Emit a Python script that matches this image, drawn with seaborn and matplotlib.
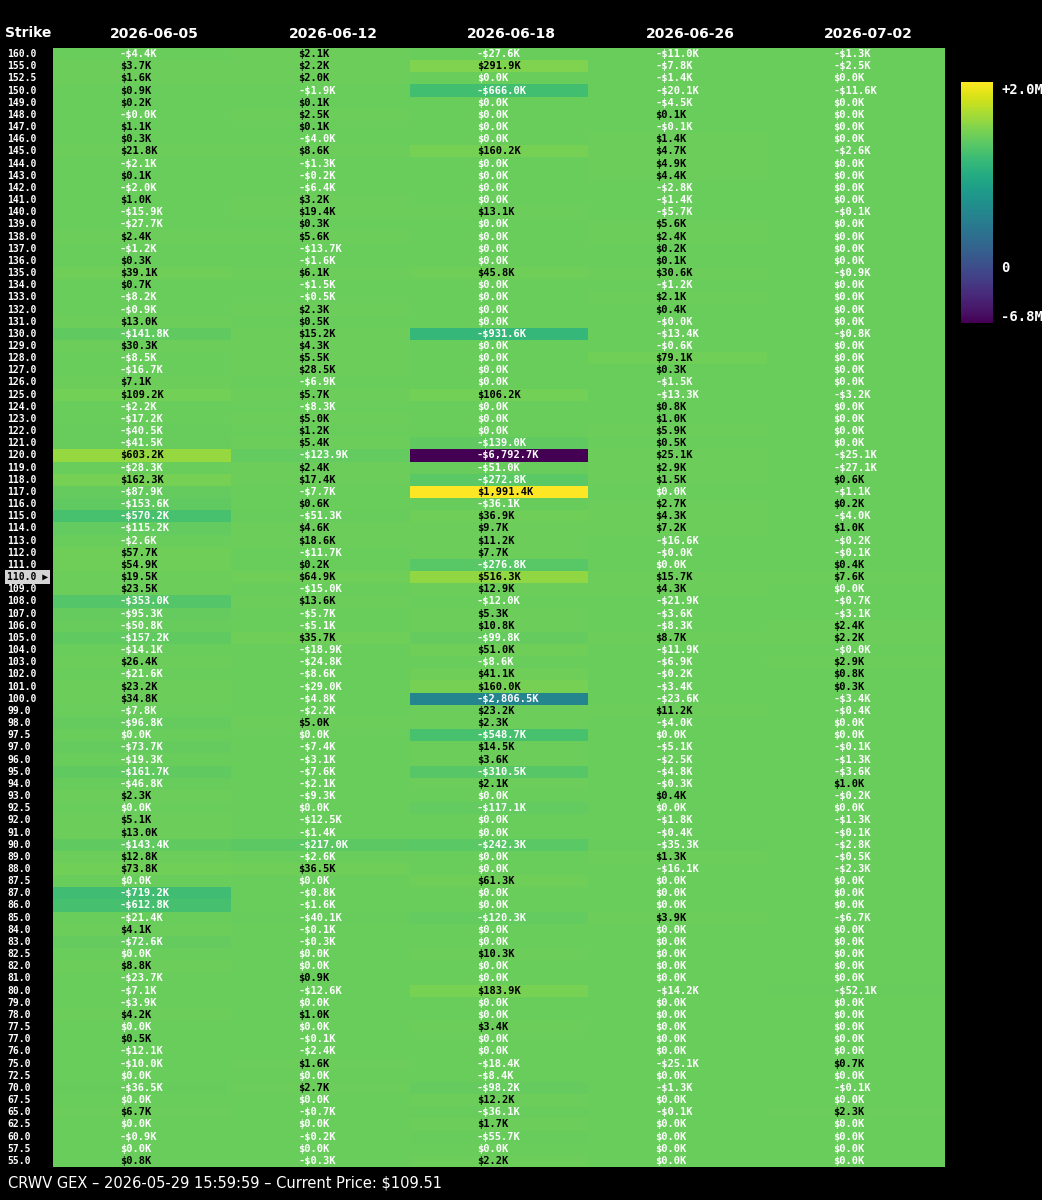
import numpy as np
import pandas as pd
import matplotlib
matplotlib.use("Agg")
import matplotlib.pyplot as plt
import seaborn as sns

# strikes, top to bottom
strikes = [160.0, 155.0, 152.5, 150.0, 149.0, 148.0, 147.0, 146.0, 145.0, 144.0,
           143.0, 142.0, 141.0, 140.0, 139.0, 138.0, 137.0, 136.0, 135.0, 134.0,
           133.0, 132.0, 131.0, 130.0, 129.0, 128.0, 127.0, 126.0, 125.0, 124.0,
           123.0, 122.0, 121.0, 120.0, 119.0, 118.0, 117.0, 116.0, 115.0, 114.0,
           113.0, 112.0, 111.0, 110.0, 109.0, 108.0, 107.0, 106.0, 105.0, 104.0,
           103.0, 102.0, 101.0, 100.0, 99.0, 98.0, 97.5, 97.0, 96.0, 95.0,
           94.0, 93.0, 92.5, 92.0, 91.0, 90.0, 89.0, 88.0, 87.5, 87.0,
           86.0, 85.0, 84.0, 83.0, 82.5, 82.0, 81.0, 80.0, 79.0, 78.0,
           77.5, 77.0, 76.0, 75.0, 72.5, 70.0, 67.5, 65.0, 62.5, 60.0,
           57.5, 55.0]

expiries = ["2026-06-05", "2026-06-12", "2026-06-18", "2026-06-26", "2026-07-02"]

# GEX per strike, in $K  (-0.01 = shown as -$0.0K)
gex_0605 = [-4.4, 3.7, 1.6, 0.9, 0.2, -0.01, 1.1, 0.3, 21.8, -2.1,
            0.1, -2.0, 1.0, -15.9, -27.7, 2.4, -1.2, 0.3, 39.1, 0.7,
            -8.2, -0.9, 13.0, -141.8, 30.3, -8.5, -16.7, 7.1, 109.2, -2.2,
            -17.2, -40.5, -41.5, 603.2, -28.3, 162.3, -87.9, -153.6, -570.2, -115.2,
            -2.6, 57.7, 54.9, 19.5, 23.5, -353.0, -95.3, -50.8, -157.2, -14.1,
            26.4, -21.6, 23.2, 34.8, -7.8, -96.8, 0.0, -73.7, -19.3, -161.7,
            -46.8, 2.3, 0.0, 5.1, 13.0, -143.4, 12.8, 73.8, 0.0, -719.2,
            -612.8, -21.4, 4.1, -72.6, 0.0, 8.8, -23.7, -7.1, -3.9, 4.2,
            0.0, 0.5, -12.1, -10.0, 0.0, -36.5, 0.0, 6.7, 0.0, -0.9,
            0.0, 0.8]
gex_0612 = [2.1, 2.2, 2.0, -1.9, 0.1, 2.5, 0.1, -4.0, 8.6, -1.3,
            -0.2, -6.4, 3.2, 19.4, 0.3, 5.6, -13.7, -1.6, 6.1, -1.5,
            -0.5, 2.3, 0.5, 15.2, 4.3, 5.5, 28.5, -6.9, 5.7, -8.3,
            5.0, 1.2, 5.4, -123.9, 2.4, 17.4, -7.7, 0.6, -51.3, 4.6,
            18.6, -11.7, 0.2, 64.9, -15.0, 13.6, -5.7, -5.1, 35.7, -18.9,
            -24.8, -8.6, -29.0, -4.8, -2.2, 5.0, 0.0, -7.4, -3.1, -7.6,
            -2.1, -9.3, 0.0, -12.5, -1.4, -217.0, -2.6, 36.5, 0.0, -0.8,
            -1.6, -40.1, -0.1, -0.3, 0.0, 0.0, 0.9, -12.6, 0.0, 1.0,
            0.0, -0.1, -2.4, 1.6, 0.0, 2.7, 0.0, -0.7, 0.0, -0.2,
            0.0, -0.3]
gex_0618 = [-27.6, 291.9, 0.0, -666.0, 0.0, 0.0, 0.0, 0.0, 160.2, 0.0,
            0.0, 0.0, 0.0, 13.1, 0.0, 0.0, 0.0, 0.0, 45.8, 0.0,
            0.0, 0.0, 0.0, -931.6, 0.0, 0.0, 0.0, 0.0, 106.2, 0.0,
            0.0, 0.0, -139.0, -6792.7, -51.0, -272.8, 1991.4, -36.1, 36.9, 9.7,
            11.2, 7.7, -276.8, 516.3, 12.9, -12.0, 5.3, 10.8, -99.8, 51.0,
            -8.6, 41.1, 160.0, -2806.5, 23.2, 2.3, -548.7, 14.5, 3.6, -310.5,
            2.1, 0.0, -117.1, 0.0, 0.0, -242.3, 0.0, 0.0, 61.3, 0.0,
            0.0, -120.3, 0.0, 0.0, 10.3, 0.0, 0.0, 183.9, 0.0, 0.0,
            3.4, 0.0, 0.0, -18.4, -8.4, -98.2, 12.2, -36.1, 1.7, -55.7,
            0.0, 2.2]
gex_0626 = [-11.0, -7.8, -1.4, -20.1, -4.5, 0.1, -0.1, 1.4, 4.7, 4.9,
            4.4, -2.8, -1.4, -5.7, 5.6, 2.4, 0.2, 0.1, 30.6, -1.2,
            2.1, 0.4, -0.01, -13.4, -0.6, 79.1, 0.3, -1.5, -13.3, 0.8,
            1.0, 5.9, 0.5, 25.1, 2.9, 1.5, 0.0, 2.7, 4.3, 7.2,
            -16.6, -0.01, 0.0, 15.7, 4.3, -21.9, -3.6, -8.3, 8.7, -11.9,
            -6.9, -0.2, -3.4, -23.6, 11.2, -4.0, 0.0, -5.1, -2.5, -4.8,
            -0.3, 0.4, 0.0, -1.8, -0.4, -35.3, 1.3, -16.1, 0.0, 0.0,
            0.0, 3.9, 0.0, 0.0, 0.0, 0.0, 0.0, -14.2, 0.0, 0.0,
            0.0, 0.0, 0.0, -25.1, 0.0, -1.3, 0.0, -0.1, 0.0, 0.0,
            0.0, 0.0]
gex_0702 = [-1.3, -2.5, 0.0, -11.6, 0.0, 0.0, 0.0, 0.0, -2.6, 0.0,
            0.0, 0.0, 0.0, -0.1, 0.0, 0.0, 0.0, 0.0, -0.9, 0.0,
            0.0, 0.0, 0.0, -0.8, 0.0, 0.0, 0.0, 0.0, -3.2, 0.0,
            0.0, 0.0, 0.0, -25.1, -27.1, 0.6, -1.1, 0.2, -4.0, 1.0,
            -0.2, -0.1, 0.4, 7.6, 0.0, -0.7, -3.1, 2.4, 2.2, -0.01,
            2.9, 0.8, 0.3, -3.4, -0.4, 0.0, 0.0, -0.1, -1.3, -3.6,
            1.0, -0.2, 0.0, -1.3, -0.1, -2.8, -0.5, -2.3, 0.0, 0.0,
            0.0, -6.7, 0.0, 0.0, 0.0, 0.0, 0.0, -52.1, 0.0, 0.0,
            0.0, 0.0, 0.0, 0.7, 0.0, -0.1, 0.0, 2.3, 0.0, 0.0,
            0.0, 0.0]

current_strike = 110.0

df = pd.DataFrame(
    {expiries[0]: gex_0605, expiries[1]: gex_0612, expiries[2]: gex_0618,
     expiries[3]: gex_0626, expiries[4]: gex_0702},
    index=[f"{s:.1f}" for s in strikes])

vmin = df.values.min()
vmax = df.values.max()

fig = plt.figure(figsize=(10.42, 12), dpi=100, facecolor="black")
ax = fig.add_axes([0.0509, 0.0275, 0.856, 0.9325])
cax = fig.add_axes([0.9223, 0.7308, 0.0307, 0.2008])

sns.heatmap(df, ax=ax, cbar_ax=cax, cmap="viridis", vmin=vmin, vmax=vmax,
            linewidths=0)

mono = ["DejaVu Sans Mono", "DejaVu Sans"]

# column headers on top
ax.xaxis.tick_top()
ax.set_xticks(np.arange(len(expiries)) + 0.57)
ax.set_xticklabels(expiries, fontsize=10, fontweight="bold", color="white", rotation=0)
ax.tick_params(axis="x", length=0, pad=5)

# strike labels
ylabels = [f"{s:.1f} \u25b6" if s == current_strike else f"{s:.1f}" for s in strikes]
ax.set_yticks(np.arange(len(strikes)) + 0.5)
ax.set_yticklabels(ylabels, rotation=0, fontsize=7, fontweight="bold", family=mono)
ax.tick_params(axis="y", length=0, pad=33)
for lbl, s in zip(ax.get_yticklabels(), strikes):
    lbl.set_ha("left")
    if s == current_strike:
        lbl.set_color("black")
        lbl.set_bbox(dict(facecolor="#d4d4d4", edgecolor="none", pad=1.5))
    else:
        lbl.set_color("white")
ax.set_xlabel("")
ax.set_ylabel("")

# cell values
for j, col in enumerate(expiries):
    for i, v in enumerate(df[col].values):
        txt = f"{'-' if v < 0 else ''}${abs(v):,.1f}K"
        ax.text(j + 0.375, i + 0.5, txt, ha="left", va="center", fontsize=7.5,
                fontweight="bold", family=mono,
                color="black" if v >= 0.05 else "white")

# colorbar
cbar = ax.collections[0].colorbar
cbar.outline.set_visible(False)
span = vmax - vmin
cbar.set_ticks([vmax - 0.025 * span, vmin + 0.235 * span, vmin + 0.033 * span])
cbar.set_ticklabels(["+2.0M", "0", "-6.8M"])
cax.tick_params(length=0, colors="white", labelsize=10, pad=6)
for t in cax.get_yticklabels():
    t.set_family(mono)
    t.set_fontweight("bold")

fig.text(5 / 1042, 1 - 33 / 1200, "Strike", fontsize=10, fontweight="bold",
         color="white", va="center", ha="left")
fig.text(8 / 1042, 1 - 1183 / 1200,
         "CRWV GEX \u2013 2026-05-29 15:59:59 \u2013 Current Price: $109.51",
         fontsize=10.5, color="white", va="center", ha="left")

fig.savefig("out.png", dpi=100, facecolor="black")
